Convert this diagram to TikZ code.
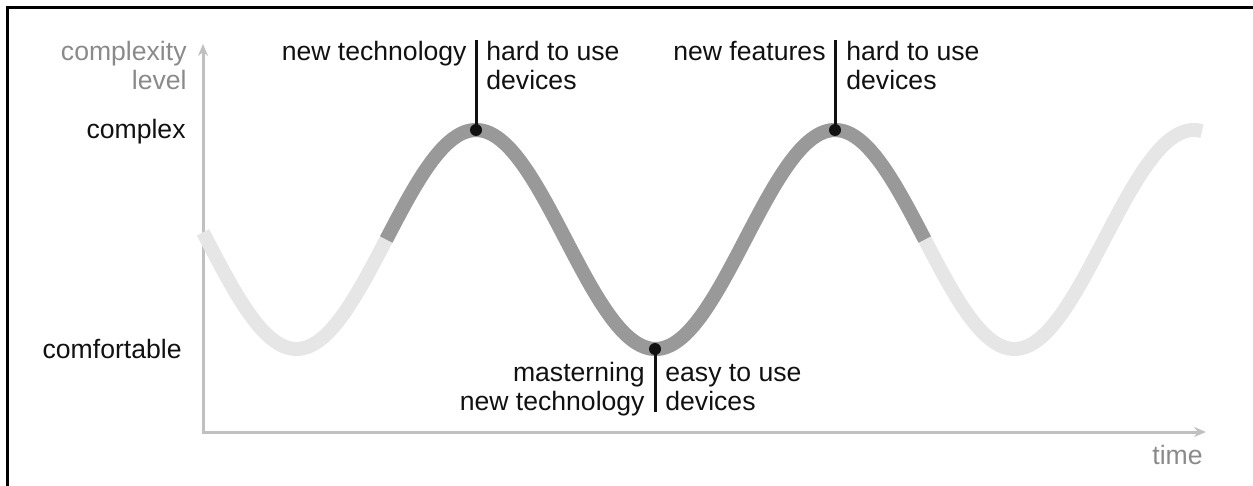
\documentclass[tikz,border=0pt]{standalone}
\usepackage{fontspec}
\setmainfont{Liberation Sans}
\usetikzlibrary{arrows.meta}
\definecolor{axisgray}{HTML}{C0C0C0}
\definecolor{labelgray}{HTML}{8A8A8A}
\definecolor{curvelight}{HTML}{E6E6E6}
\definecolor{curvedark}{HTML}{999999}
\definecolor{ink}{HTML}{111111}
\begin{document}
\begin{tikzpicture}[x=0.5pt,y=-0.5pt,
  lbl/.style={inner sep=0pt, text=ink, font=\fontsize{13.3}{14.5}\selectfont},
  axislbl/.style={lbl, text=labelgray},
  axisline/.style={draw=axisgray, line width=1.5pt},
  dotnode/.style={circle, fill=ink, inner sep=0pt, minimum size=6pt},
  leader/.style={line width=1.5pt, draw=ink},
  wave/.style={line width=7pt},
  frameline/.style={line width=1.5pt, draw=black}]
\useasboundingbox (0,0) rectangle (1253,486);
% frame
\draw[frameline] (7,487) -- (7,8) -- (1254,8);
% axes
\coordinate (O) at (203,432);
\coordinate (ytop) at (203,44);
\coordinate (xend) at (1206,432);
\draw[axisline, {Stealth[length=6pt,width=5pt]}-{Stealth[length=6pt,width=5pt]}] (ytop) -- (O) -- (xend);
% wave
\draw[wave, draw=curvelight] plot[domain=203:1202, samples=300, smooth] (\x,{239.5-109.5*cos(1.0027855*(\x-476))});
\draw[wave, draw=curvedark] plot[domain=386.25:924.75, samples=200, smooth] (\x,{239.5-109.5*cos(1.0027855*(\x-476))});
% points
\coordinate (c1) at (476,130);
\coordinate (c2) at (835,130);
\coordinate (c3) at (655,349);
\coordinate (t1) at (476,40);
\coordinate (t2) at (835,40);
\coordinate (b3) at (655,412);
\draw[leader] (t1) -- (c1);
\draw[leader] (t2) -- (c2);
\draw[leader] (b3) -- (c3);
\node[dotnode] (p1) at (c1) {};
\node[dotnode] (p2) at (c2) {};
\node[dotnode] (p3) at (c3) {};
% labels at points (base = last line's baseline)
\node[lbl, anchor=base east] (l1) at (467,61) {new technology};
\node[lbl, anchor=base west, align=left] (r1) at (486,90) {hard to use\\devices};
\node[lbl, anchor=base east] (l2) at (826,61) {new features};
\node[lbl, anchor=base west, align=left] (r2) at (846,90) {hard to use\\devices};
\node[lbl, anchor=base east, align=right] (l3) at (645,410) {masterning\\new technology};
\node[lbl, anchor=base west, align=left] (r3) at (665,410) {easy to use\\devices};
% axis labels
\node[axislbl, anchor=base east, align=right] (ylab) at (187,90) {complexity\\level};
\node[lbl, anchor=base east] (cx) at (186,139) {complex};
\node[lbl, anchor=base east] (cf) at (182,358) {comfortable};
\node[axislbl, anchor=base east] (tm) at (1203,464) {time};
\end{tikzpicture}
\end{document}
